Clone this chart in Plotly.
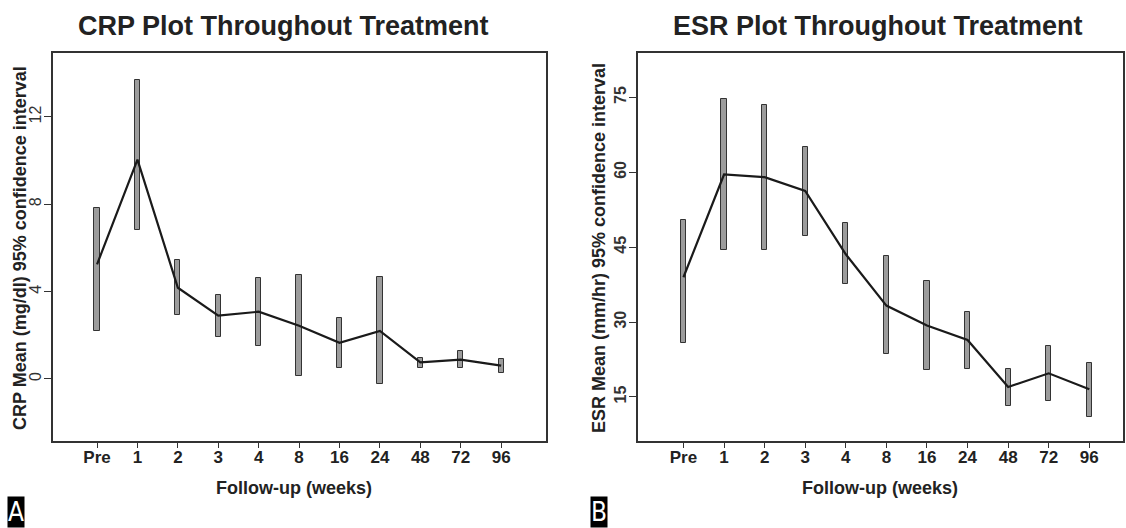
import plotly.graph_objects as go

categories = ["Pre", "1", "2", "3", "4", "8", "16", "24", "48", "72", "96"]

crp_mean = [5.25, 10.05, 4.18, 2.90, 3.08, 2.44, 1.66, 2.20, 0.76, 0.89, 0.61]
crp_lower = [2.18, 6.81, 2.92, 1.92, 1.53, 0.15, 0.50, -0.21, 0.52, 0.50, 0.29]
crp_upper = [7.85, 13.71, 5.47, 3.86, 4.64, 4.75, 2.78, 4.69, 0.98, 1.27, 0.90]

esr_mean = [38.98, 59.56, 59.02, 56.28, 43.59, 33.30, 29.30, 26.42, 17.00, 19.74, 16.54]
esr_lower = [25.75, 44.46, 44.46, 47.20, 37.65, 23.62, 20.34, 20.68, 13.26, 14.13, 10.99]
esr_upper = [50.47, 74.65, 73.52, 65.17, 49.94, 43.26, 38.31, 31.97, 20.60, 25.29, 21.88]

crp_ticks = [0, 4, 8, 12]
esr_ticks = [15, 30, 45, 60, 75]

W, H = 1126, 528
idx = list(range(len(categories)))

def px(x):
    return x / W

def py(y):
    return 1 - y / H

fig = go.Figure()

BAR_FILL = "#9c9c9c"
EDGE = "#333333"

for mean, lo, hi, xa, ya in [
    (crp_mean, crp_lower, crp_upper, "x", "y"),
    (esr_mean, esr_lower, esr_upper, "x2", "y2"),
]:
    fig.add_trace(go.Bar(
        x=idx, y=[h - l for h, l in zip(hi, lo)], base=lo,
        width=0.13, marker=dict(color=BAR_FILL, line=dict(color=EDGE, width=1)),
        xaxis=xa, yaxis=ya, showlegend=False, hoverinfo="skip",
    ))
    fig.add_trace(go.Scatter(
        x=idx, y=mean, mode="lines", line=dict(color="#1a1a1a", width=2.2),
        xaxis=xa, yaxis=ya, showlegend=False,
    ))

axis_common = dict(
    showline=True, mirror=True, linecolor=EDGE, linewidth=1.5,
    ticks="outside", tickcolor=EDGE, tickwidth=1,
    showgrid=False, zeroline=False, fixedrange=True,
)

ydom = [py(441), py(53)]
xtickfont = dict(size=17, family="Liberation Sans, Arial", weight="bold", color="#222")

fig.update_layout(
    width=W, height=H, margin=dict(l=0, r=0, t=0, b=0),
    paper_bgcolor="white", plot_bgcolor="white",
    bargap=0, barmode="overlay",
    font=dict(family="Liberation Sans, Arial, sans-serif", color="#222"),
    xaxis=dict(domain=[px(53), px(546)], range=[-1.09, 11.11],
               tickvals=idx, ticktext=categories, ticklen=5,
               tickfont=xtickfont, ticklabelstandoff=-5,
               anchor="y", **axis_common),
    yaxis=dict(domain=ydom, range=[-2.84, 14.93], tickvals=crp_ticks, ticklen=7,
               tickangle=-90, tickfont=dict(size=16, color="#333"),
               ticklabelstandoff=-3,
               anchor="x", **axis_common),
    xaxis2=dict(domain=[px(638), px(1123)], range=[-1.12, 10.83],
                tickvals=idx, ticktext=categories, ticklen=5,
                tickfont=xtickfont, ticklabelstandoff=-5,
                anchor="y2", **axis_common),
    yaxis2=dict(domain=ydom, range=[6.18, 83.9], tickvals=esr_ticks, ticklen=7,
                tickangle=-90, tickfont=dict(size=16, weight="bold", color="#333"),
                ticklabelstandoff=-3,
                anchor="x2", **axis_common),
)

title_font = dict(family="Liberation Sans, Arial", size=27, weight="bold", color="#222")
lab_font = dict(family="Liberation Sans, Arial", size=18, weight="bold", color="#222")
xlab_font = dict(family="Liberation Sans, Arial", size=18, weight="bold", color="#222")

ann = [
    dict(text="CRP Plot Throughout Treatment", x=px(283.5), y=py(26), font=title_font),
    dict(text="ESR Plot Throughout Treatment", x=px(878), y=py(26), font=title_font),
    dict(text="CRP Mean (mg/dl) 95% confidence interval", x=px(20), y=py(248),
         textangle=-90, font=lab_font),
    dict(text="ESR Mean (mm/hr) 95% confidence interval", x=px(599), y=py(248),
         textangle=-90, font=lab_font),
    dict(text="Follow-up (weeks)", x=px(294), y=py(488), font=xlab_font),
    dict(text="Follow-up (weeks)", x=px(880), y=py(488), font=xlab_font),
]
for a in ann:
    fig.add_annotation(xref="paper", yref="paper", showarrow=False,
                       xanchor="center", yanchor="middle", **a)

for t, x in [("A", 15.5), ("B", 599)]:
    fig.add_annotation(text=t, xref="paper", yref="paper", x=px(x), y=0,
                       showarrow=False, xanchor="center", yanchor="bottom",
                       bgcolor="black", borderpad=0,
                       font=dict(family="Liberation Sans Narrow, DejaVu Sans Condensed, Liberation Sans",
                                 size=26, color="white"))

fig.write_html("out.html", config={"displayModeBar": False},
               post_script="document.body.style.margin='0';")
